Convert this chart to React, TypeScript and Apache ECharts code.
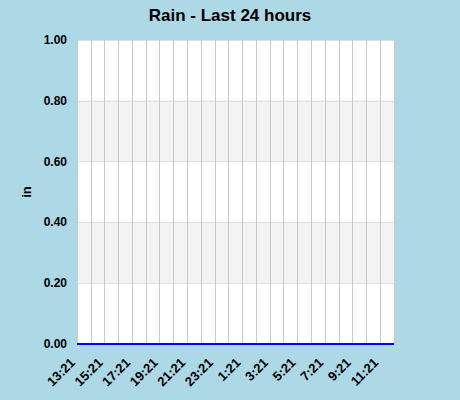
import React, { useEffect, useRef } from 'react';
import * as echarts from 'echarts';

// hourly slots over the last 24 hours (13:21 .. 12:21)
const hours = [
  '13:21', '14:21', '15:21', '16:21', '17:21', '18:21', '19:21', '20:21',
  '21:21', '22:21', '23:21', '0:21', '1:21', '2:21', '3:21', '4:21',
  '5:21', '6:21', '7:21', '8:21', '9:21', '10:21', '11:21', '12:21',
];
// rain in inches, no rain recorded
const rain = [
  0, 0, 0, 0, 0, 0, 0, 0, 0, 0, 0, 0,
  0, 0, 0, 0, 0, 0, 0, 0, 0, 0, 0, 0,
];

const font = 'Liberation Sans, Arial, sans-serif';

const App: React.FC = () => {
  const chartRef = useRef<HTMLDivElement>(null);

  useEffect(() => {
    const chart = echarts.init(chartRef.current as HTMLDivElement, undefined, { renderer: 'svg' });
    const option = {
      animation: false,
      backgroundColor: '#add8e6',
      title: {
        text: 'Rain - Last 24 hours',
        left: 'center',
        top: 2,
        textStyle: { fontFamily: font, fontSize: 17, fontWeight: 'bold', color: '#000' },
      },
      grid: { left: 77, right: 66, top: 40, bottom: 56 },
      xAxis: {
        type: 'category',
        data: hours,
        boundaryGap: false,
        axisLine: { show: false },
        axisTick: { show: false },
        axisLabel: {
          interval: 1,
          rotate: 45,
          margin: 12,
          padding: [0, 6, 0, 0],
          fontFamily: font,
          fontSize: 13,
          fontWeight: 'bold',
          color: '#000',
        },
        splitLine: { show: true, interval: 0, lineStyle: { color: '#c8c8c8', width: 1 } },
      },
      yAxis: {
        type: 'value',
        min: 0,
        max: 1,
        interval: 0.2,
        name: 'in',
        nameLocation: 'middle',
        nameGap: 33,
        nameTextStyle: { fontFamily: font, fontSize: 13, fontWeight: 'bold', color: '#000' },
        axisLine: { show: false },
        axisTick: { show: false },
        axisLabel: {
          margin: 10,
          fontFamily: font,
          fontSize: 12,
          fontWeight: 'bold',
          color: '#000',
          formatter: (v: number) => v.toFixed(2),
        },
        splitLine: { show: true, lineStyle: { color: '#e0e0e0', width: 1 } },
        splitArea: { show: true, areaStyle: { color: ['#ffffff', '#f3f3f3'] } },
      },
      series: [
        {
          name: 'Rain',
          type: 'line',
          data: rain,
          showSymbol: false,
          lineStyle: { color: '#0000ff', width: 2 },
          itemStyle: { color: '#0000ff' },
        },
      ],
    };
    chart.setOption(option);
    return () => {
      chart.dispose();
    };
  }, []);

  return (
    <div
      ref={chartRef}
      style={{ position: 'fixed', left: 0, top: 0, width: '460px', height: '400px' }}
    ></div>
  );
};

export default App;
